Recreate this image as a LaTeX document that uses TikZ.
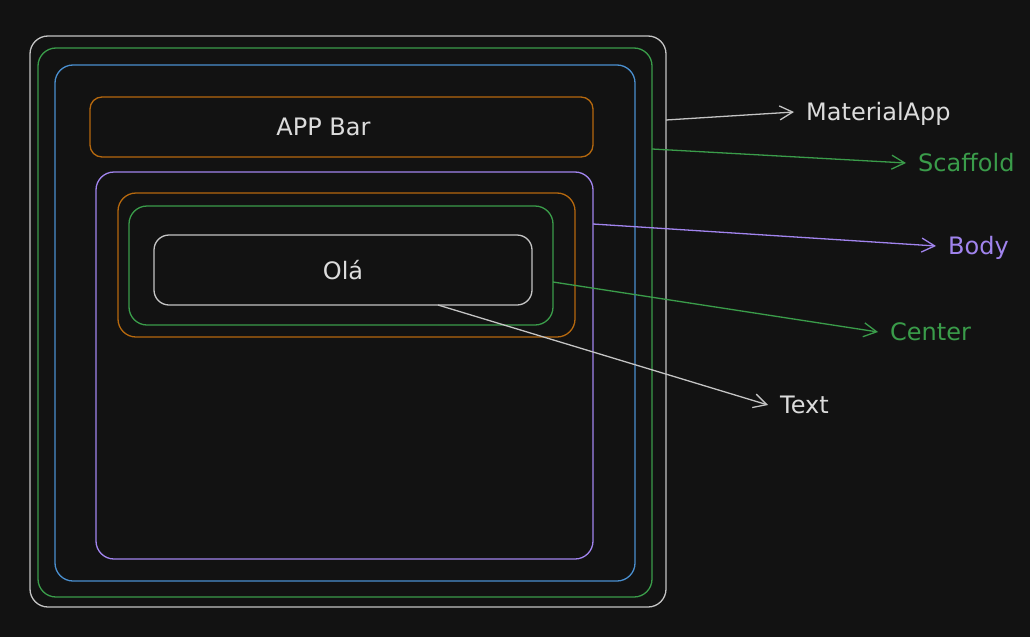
\documentclass[tikz,border=0pt]{standalone}
\usepackage{fontspec}
\setmainfont{DejaVu Sans}
\usepackage{xcolor}
\definecolor{canvasBg}{HTML}{121212}
\definecolor{lineWhite}{HTML}{C4C4C4}
\definecolor{textWhite}{HTML}{DCDCDC}
\definecolor{leafGreen}{HTML}{3A9C4A}
\definecolor{skyBlue}{HTML}{4A8FCF}
\definecolor{amber}{HTML}{B5680E}
\definecolor{lilac}{HTML}{A184EE}
\usetikzlibrary{positioning,calc,arrows.meta}
\tikzset{%
  widgetBox/.style={%
    rectangle,
    rounded corners=18pt,
    draw=#1,
    line width=1.3pt,
    inner sep=0pt,
    outer sep=0pt,
    text=textWhite,
    font=\fontsize{24}{28}\selectfont
  },
  widgetLabel/.style={%
    anchor=west,
    text=#1,
    inner xsep=12pt,
    inner ysep=0pt,
    text height=17.5pt,
    text depth=0pt,
    font=\fontsize{24}{28}\selectfont
  },
  arrowLine/.style={%
    -{Straight Barb[length=13pt,width=14pt]},
    line width=1.3pt,
    color=#1
  }
}

\begin{document}
\begin{tikzpicture}[x=1pt,y=-1pt]
  \fill[canvasBg] (0,0) rectangle (1030,637);
  \useasboundingbox (0,0) rectangle (1030,637);

  % nested widget boxes
  \node[widgetBox=lineWhite, minimum width=636pt, minimum height=571pt] (materialApp) at (348,321.5) {};
  \node[widgetBox=leafGreen, minimum width=614pt, minimum height=549pt] (scaffold) at (345,322.5) {};
  \node[widgetBox=skyBlue, minimum width=580pt, minimum height=516pt] (safeArea) at (345,323) {};
  \node[widgetBox=amber, rounded corners=12pt, minimum width=503pt, minimum height=60pt] (appBar) at (341.5,127) {APP Bar\hspace*{36pt}};
  \node[widgetBox=lilac, minimum width=497pt, minimum height=387pt] (body) at (344.5,365.5) {};
  \node[widgetBox=amber, minimum width=457pt, minimum height=144pt] (padding) at (346.5,265) {};
  \node[widgetBox=leafGreen, minimum width=424pt, minimum height=119pt] (center) at (341,265.5) {};
  \node[widgetBox=lineWhite, rounded corners=15pt, minimum width=378pt, minimum height=70pt] (textBox) at (343,270) {Olá};

  % labels on the right
  \node[widgetLabel=textWhite] (lblApp) at (794,112) {MaterialApp};
  \node[widgetLabel=leafGreen] (lblScaffold) at (906,163) {Scaffold};
  \node[widgetLabel=lilac] (lblBody) at (936,246) {Body};
  \node[widgetLabel=leafGreen] (lblCenter) at (878,332) {Center};
  \node[widgetLabel=textWhite] (lblText) at (768,405) {Text};

  \draw[arrowLine=lineWhite] ([yshift=201.5pt]materialApp.east) -- (lblApp.west);
  \draw[arrowLine=leafGreen] ([yshift=173.5pt]scaffold.east) -- (lblScaffold.west);
  \draw[arrowLine=lilac] ([yshift=141.5pt]body.east) -- (lblBody.west);
  \draw[arrowLine=leafGreen] ([yshift=-16.5pt]center.east) -- (lblCenter.west);
  \draw[arrowLine=lineWhite] ([xshift=95pt]textBox.south) -- (lblText.west);
\end{tikzpicture}
\end{document}
